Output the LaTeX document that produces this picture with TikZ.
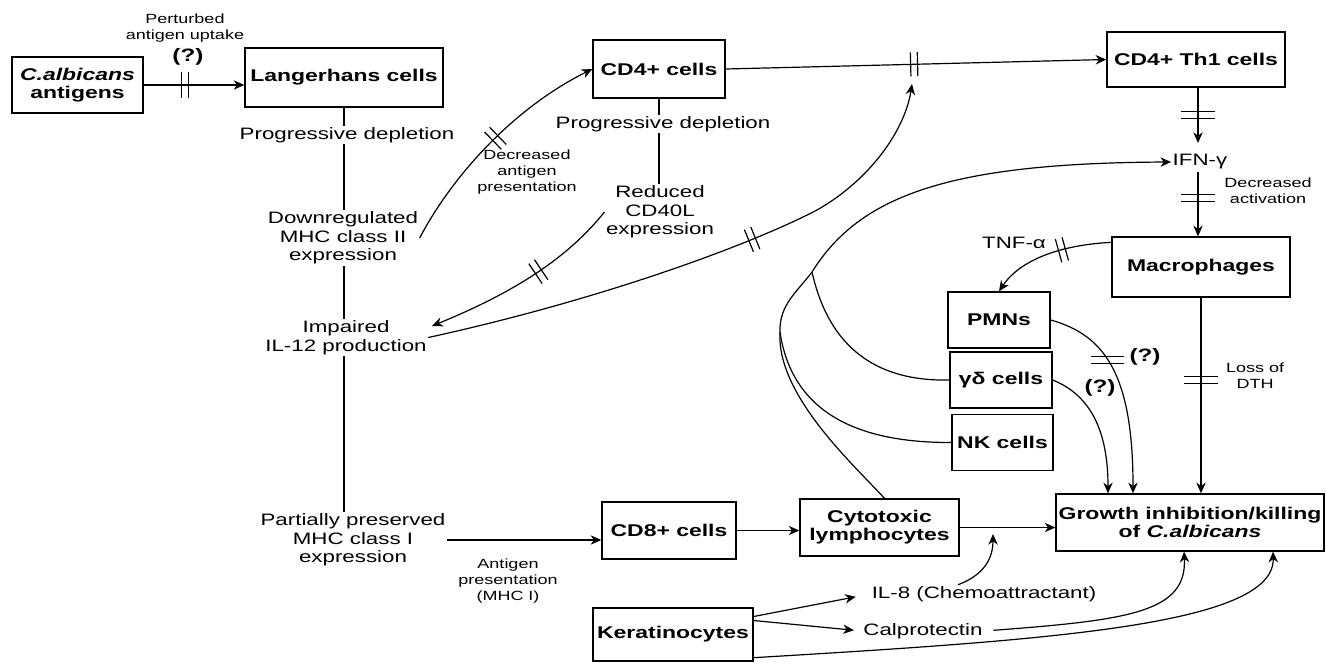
\documentclass[tikz,border=0pt]{standalone}
\usepackage{fontspec}
\setmainfont{Liberation Sans}[FakeStretch=1.35]
\usetikzlibrary{arrows.meta,calc}
\newcommand{\fbx}{\fontsize{12.75pt}{13.6pt}\selectfont\bfseries}
\newcommand{\freg}{\fontsize{12.4pt}{14pt}\selectfont}
\newcommand{\fsml}{\fontsize{10pt}{12pt}\selectfont}
\newcommand{\fq}{\fontsize{13.5pt}{14pt}\selectfont\bfseries}
\tikzset{
  box/.style={draw, line width=1pt, inner sep=0pt, align=center, font=\fbx},
  lbl/.style={inner sep=1pt, align=center, font=\freg},
  sml/.style={inner sep=1pt, align=center, font=\fsml},
  qm/.style={inner sep=1pt, font=\fq},
  ln/.style={line width=0.9pt},
  arr/.style={line width=0.9pt, -{Stealth[length=8pt,width=7pt,inset=2.5pt]}},
  barlen/.store in=\barlen, barlen=9pt,
  dbar/.pic={\draw[-, line width=0.9pt] (-2.6pt,-\barlen) -- (-2.6pt,\barlen) (2.6pt,-\barlen) -- (2.6pt,\barlen);},
}
\begin{document}
\begin{tikzpicture}[x=0.75pt,y=-0.75pt]
\useasboundingbox (0,0) rectangle (1326,664);

% boxes
\node[box, minimum width=98.25pt, minimum height=42pt] (calb) at (77.5,85) {\textit{C.albicans}\\antigens};
\node[box, minimum width=148.5pt, minimum height=44.25pt] (lang) at (344,77.5) {Langerhans cells};
\node[box, minimum width=99pt, minimum height=43.5pt] (cd4) at (659,69) {CD4+ cells};
\node[box, minimum width=133.5pt, minimum height=41.25pt] (th1) at (1196,59.5) {CD4+ Th1 cells};
\node[box, minimum width=133.5pt, minimum height=45pt] (mac) at (1201,267) {Macrophages};
\node[box, minimum width=76.5pt, minimum height=42pt] (pmn) at (999,320) {PMNs};
\node[box, minimum width=76.5pt, minimum height=42pt] (gd) at (1001,380) {γδ cells};
\node[box, minimum width=75.75pt, minimum height=42pt] (nk) at (1002.5,442.5) {NK cells};
\node[box, minimum width=201pt, minimum height=42.75pt] (growth) at (1190,522.5) {Growth inhibition/killing\\of \textit{C.albicans}};
\node[box, minimum width=119.25pt, minimum height=42.75pt] (cyto) at (879.5,527.5) {Cytotoxic\\lymphocytes};
\node[box, minimum width=100.5pt, minimum height=42.75pt] (cd8) at (669,530.5) {CD8+ cells};
\node[box, minimum width=120pt, minimum height=39.75pt] (ker) at (673,634.5) {Keratinocytes};

% text labels
\node[sml] (pert) at (185,28.5) {Perturbed\\antigen uptake};
\node[qm] (q1) at (188,57) {(?)};
\node[lbl] (pd1) at (347,135) {Progressive depletion};
\node[lbl] (down) at (343,238) {Downregulated\\MHC class II\\expression};
\node[lbl] (imp) at (346,337.5) {Impaired\\IL-12 production};
\node[lbl] (pp) at (353,540) {Partially preserved\\MHC class I\\expression};
\node[sml] (ap) at (508,581) {Antigen\\presentation\\(MHC I)};
\node[sml] (dap) at (527,172) {Decreased\\antigen\\presentation};
\node[lbl] (pd2) at (663,124) {Progressive depletion};
\node[lbl] (red) at (660,212) {Reduced\\CD40L\\expression};
\node[lbl] (ifn) at (1200,162) {IFN-γ};
\node[sml] (dact) at (1268,191) {Decreased\\activation};
\node[lbl] (tnf) at (1014,243) {TNF-α};
\node[qm] (q2) at (1145,357) {(?)};
\node[qm] (q3) at (1100,388) {(?)};
\node[sml] (loss) at (1255,376) {Loss of\\DTH};
\node[lbl] (il8) at (984,594) {IL-8 (Chemoattractant)};
\node[lbl] (calp) at (923,631) {Calprotectin};

% helper coordinates
\coordinate (ifnN) at (1198,143);
\coordinate (ifnS) at (1198,172);
\coordinate (c40tip) at (432,326);
\coordinate (il12tip) at (912,84);
\coordinate (j1) at (812,272);
\coordinate (j2) at (780,332);
\coordinate (il8tip) at (993,534);

% left column
\draw[arr] (calb.east) -- (calb.east -| lang.west) pic[pos=.41, sloped, barlen=10pt]{dbar};
\draw[ln] (lang.south) -- (lang.south |- pd1.north);
\draw[ln] (lang.south |- pd1.south) -- (lang.south |- down.north);
\draw[ln] (lang.south |- down.south) -- (lang.south |- imp.north);
\draw[ln] (lang.south |- imp.south) -- (lang.south |- pp.north);
\draw[arr] (pp.east) -- (pp.east -| cd8.west);

% CD4 column
\draw[ln] (cd4.south) -- (cd4.south |- pd2.north);
\draw[ln] (cd4.south |- pd2.south) -- (cd4.south |- red.north);
\draw[arr] (down.east) .. controls (450,180) and (510,110) .. (cd4.west) pic[pos=.55, sloped]{dbar};
\draw[arr] (red.west) .. controls (570,255) and (520,290) .. (c40tip) pic[pos=.5, sloped]{dbar};
\draw[arr] (imp.east) .. controls (600,300) and (750,245) .. (817,210) pic[pos=.75, sloped]{dbar}
   .. controls (870,180) and (905,130) .. (il12tip);
\draw[arr] (cd4.east) -- (th1.west) pic[pos=.495, sloped]{dbar};

% right column
\draw[arr] (th1.south -| ifnN) -- (ifnN) pic[pos=.5, sloped, barlen=12.5pt]{dbar};
\draw[arr] (ifnS) -- (ifnS |- mac.north) pic[pos=.4, sloped, barlen=12.5pt]{dbar};
\draw[arr] ($(mac.north west)+(0,6)$) .. controls (1060,245) and (1020,260) .. (pmn.north) pic[pos=.35, sloped]{dbar};
\draw[arr] (mac.south) -- (mac.south |- growth.north) pic[pos=.42, sloped, barlen=12.5pt]{dbar};
\draw[arr] (pmn.east) .. controls (1105,335) and (1133,375) .. ($(growth.north)+(-57,0)$) pic[pos=.45, rotate=90, barlen=12.4pt]{dbar};
\draw[arr] (gd.east) .. controls (1090,395) and (1108,430) .. ($(growth.north)+(-82,0)$);

% cytotoxic network
\draw[arr] ($(cyto.north)+(5,0)$) .. controls (855,466) and (776,395) .. (j2)
   .. controls (779,305) and (797,292) .. (j1)
   .. controls (860,195) and (950,163) .. (ifn.west);
\draw[ln] (j1) .. controls (825,330) and (860,382) .. (gd.west);
\draw[ln] (j2) .. controls (790,400) and (840,443) .. (nk.west);

% bottom row
\draw[arr] (cd8.east) -- (cd8.east -| cyto.west);
\draw[arr] (cyto.east) -- (cyto.east -| growth.west);
\draw[arr, shorten >=11pt] ($(ker.east)+(0,-18)$) -- (il8.west);
\draw[arr, shorten >=6pt] ($(ker.east)+(0,-14)$) -- (calp.west);
\draw[arr] ($(il8.north)+(-26,0)$) .. controls (987,574) and (993,555) .. (il8tip);
\draw[arr, shorten <=7pt] (calp.east) .. controls (1130,620) and (1187,612) .. ($(growth.south)+(-6,0)$);
\draw[arr] ($(ker.south east)+(0,-4)$) .. controls (1050,640) and (1275,625) .. ($(growth.south)+(83,0)$);
\end{tikzpicture}
\end{document}
